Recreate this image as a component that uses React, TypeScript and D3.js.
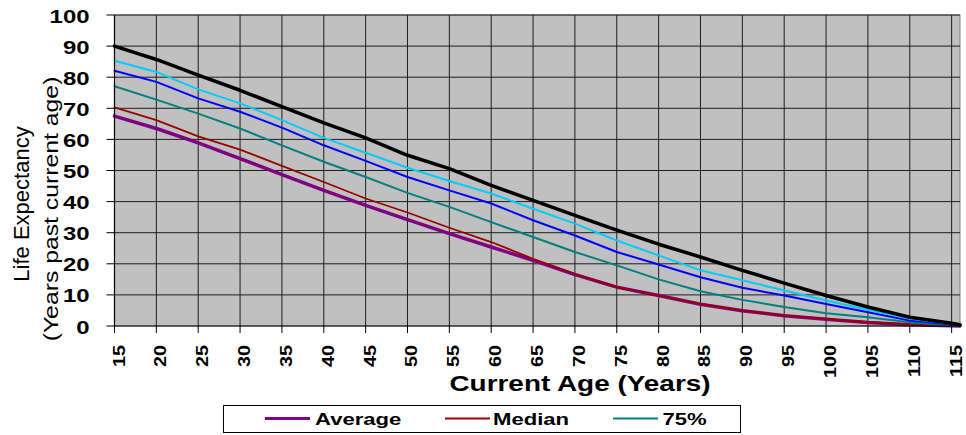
import React from "react";
import * as d3 from "d3";

const W = 966;
const H = 435;

const ages = [15, 20, 25, 30, 35, 40, 45, 50, 55, 60, 65, 70, 75, 80, 85, 90, 95, 100, 105, 110, 115, 116];

// life expectancy (years past current age)
const average = [67.5, 63.5, 58.9, 53.8, 48.7, 43.6, 38.8, 34.2, 29.7, 25.4, 21.1, 16.5, 12.5, 9.8, 7.0, 4.9, 3.3, 2.2, 1.1, 0.4, 0.1, 0];
const median = [70.3, 66.2, 61.0, 56.7, 51.5, 46.3, 41.0, 36.5, 31.6, 27.0, 21.6, 16.8, 12.5, 9.8, 7.1, 5.0, 3.4, 2.3, 1.2, 0.5, 0.1, 0];
const pct75 = [77.1, 72.8, 68.3, 63.5, 58.1, 52.8, 47.9, 42.8, 38.3, 33.4, 28.6, 23.8, 19.5, 15.0, 11.2, 8.4, 6.1, 4.1, 2.8, 1.2, 0.2, 0.1];
const pct90 = [82.1, 78.5, 73.2, 68.9, 63.8, 58.1, 53.1, 47.9, 43.6, 39.4, 34.0, 29.1, 23.8, 19.8, 15.7, 12.3, 9.8, 7.1, 4.4, 1.8, 0.5, 0.2];
const pct95 = [85.3, 81.7, 76.1, 71.6, 66.2, 60.5, 55.7, 50.9, 46.6, 42.6, 37.7, 32.9, 27.5, 22.7, 17.9, 14.7, 11.4, 8.2, 5.2, 2.3, 0.7, 0.3];
const pct99 = [90.0, 85.7, 80.7, 75.8, 70.5, 65.3, 60.5, 54.9, 50.6, 45.2, 40.4, 35.6, 30.8, 26.3, 22.2, 17.9, 13.8, 9.8, 6.1, 2.8, 0.9, 0.4];

const yTicks = [0, 10, 20, 30, 40, 50, 60, 70, 80, 90, 100];
const xTicks = [15, 20, 25, 30, 35, 40, 45, 50, 55, 60, 65, 70, 75, 80, 85, 90, 95, 100, 105, 110, 115];

const series = [
  { name: "Average", values: average, color: "#800080", width: 3.5 },
  { name: "Median", values: median, color: "#990000", width: 1.8 },
  { name: "75%", values: pct75, color: "#008080", width: 2 },
  { name: "90%", values: pct90, color: "#0000ff", width: 2 },
  { name: "95%", values: pct95, color: "#00ccff", width: 2 },
  { name: "99%", values: pct99, color: "#000000", width: 3.5 },
];

const FONT = "'Liberation Sans', Arial, sans-serif";

const plot = { left: 114.5, right: 960, top: 15, bottom: 326 };

// text with a horizontal stretch, the original chart's font is wide
function Txt({ x, y, rot = 0, sx = 1, size, bold = true, anchor = "start", children }: any) {
  return (
    <g transform={`translate(${x},${y}) rotate(${rot}) scale(${sx},1)`}>
      <text fontFamily={FONT} fontSize={size} fontWeight={bold ? "bold" : "normal"} textAnchor={anchor} fill="#000">
        {children}
      </text>
    </g>
  );
}

export default function App() {
  const x = d3.scaleLinear().domain([15, 116]).range([plot.left, plot.right]);
  const y = d3.scaleLinear().domain([0, 100]).range([plot.bottom, plot.top]);

  const line = (vals: number[]) =>
    d3.line<number>()
      .x((_, i) => x(ages[i]))
      .y((d) => y(d))(vals) || "";

  const legendItems = [
    { s: series[0], x0: 265, tx: 315 },
    { s: series[1], x0: 445, tx: 493 },
    { s: series[2], x0: 613, tx: 662.5 },
  ];

  return (
    <div style={{ position: "absolute", left: 0, top: 0 }}>
      <svg width={W} height={H} style={{ display: "block", background: "#fff" }}>
        <rect x={plot.left} y={plot.top} width={plot.right - plot.left} height={plot.bottom - plot.top} fill="#c0c0c0" stroke="#808080" strokeWidth={1} />

        {yTicks.slice(1).map((t) => (
          <line key={"gy" + t} x1={plot.left} x2={plot.right} y1={y(t)} y2={y(t)} stroke="#1e1e1e" strokeWidth={1} />
        ))}
        {xTicks.slice(1).map((t) => (
          <line key={"gx" + t} x1={x(t)} x2={x(t)} y1={plot.top} y2={plot.bottom} stroke="#1e1e1e" strokeWidth={1} />
        ))}

        {series.map((s) => (
          <path key={s.name} d={line(s.values)} fill="none" stroke={s.color} strokeWidth={s.width} strokeLinejoin="round" strokeLinecap="round" />
        ))}

        {/* axes */}
        <line x1={plot.left} x2={plot.left} y1={plot.top} y2={plot.bottom} stroke="#000" strokeWidth={1.2} />
        <line x1={plot.left} x2={plot.right} y1={plot.bottom} y2={plot.bottom} stroke="#000" strokeWidth={1.2} />
        {yTicks.map((t) => (
          <line key={"ty" + t} x1={plot.left - 8} x2={plot.left} y1={y(t)} y2={y(t)} stroke="#000" strokeWidth={1} />
        ))}
        {xTicks.map((t) => (
          <line key={"tx" + t} x1={x(t)} x2={x(t)} y1={plot.bottom} y2={plot.bottom + 7} stroke="#000" strokeWidth={1} />
        ))}

        {yTicks.map((t) => (
          <Txt key={"ly" + t} x={89.5} y={y(t) + 7.5} sx={1.33} size={18} anchor="end">{t}</Txt>
        ))}
        {xTicks.map((t) => (
          <Txt key={"lx" + t} x={x(t) + 10} y={345} rot={-90} sx={1.2} size={16.5} anchor="end">{t}</Txt>
        ))}

        <Txt x={580} y={391} sx={1.27} size={22} anchor="middle">Current Age (Years)</Txt>
        <Txt x={28.5} y={204} rot={-90} size={22} bold={false} anchor="middle">Life Expectancy</Txt>
        <Txt x={57.5} y={209} rot={-90} sx={1.18} size={21} bold={false} anchor="middle">(Years past current age)</Txt>

        <rect x={223.5} y={405.5} width={517} height={27} fill="#fff" stroke="#000" strokeWidth={1} />
        {legendItems.map(({ s, x0, tx }) => (
          <g key={"lg" + s.name}>
            <line x1={x0} x2={x0 + 45} y1={418.5} y2={418.5} stroke={s.color} strokeWidth={s.width > 3 ? 3 : 2} />
            <Txt x={tx} y={425} sx={1.3} size={17}>{s.name}</Txt>
          </g>
        ))}
      </svg>
    </div>
  );
}
